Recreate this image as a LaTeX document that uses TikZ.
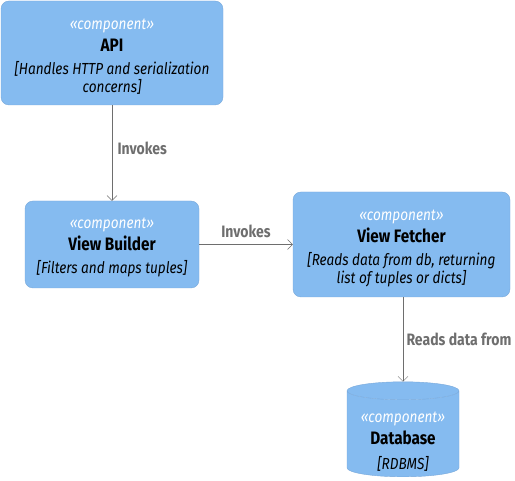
\documentclass[tikz,border=0pt]{standalone}
\usepackage{fontspec}
\setmainfont[FakeStretch=0.85]{Fira Sans}
\usetikzlibrary{shapes.geometric,arrows.meta}
\definecolor{boxfill}{HTML}{85BBF0}
\definecolor{boxline}{HTML}{78A8DA}
\definecolor{linkgray}{HTML}{6E6E6E}
\tikzset{
  comptext/.style={align=center, inner sep=0pt, font=\fontsize{16}{21}\selectfont},
  comp/.style={comptext, draw=boxline, fill=boxfill, rounded corners=8pt},
  dbcomp/.style={shape=cylinder, shape border rotate=90, aspect=0.18,
    draw=boxline, cylinder uses custom fill, cylinder body fill=boxfill,
    cylinder end fill=boxfill, inner sep=0pt},
  link/.style={draw=linkgray, -{Straight Barb[length=5pt,width=10pt]}},
  linklabel/.style={text=linkgray, font=\fontsize{16.5}{20}\selectfont\bfseries}
}
\newcommand{\stereo}[1]{\rule{0pt}{#1}{\color{white}\itshape «component»}}
\newcommand{\compname}[1]{{\fontsize{18}{21}\selectfont\bfseries #1}}
\begin{document}
\begin{tikzpicture}[x=1pt,y=-1pt]
    \useasboundingbox (0,0) rectangle (515,481);

    % Define components
    \node[comp, minimum width=222pt, minimum height=104pt] (api) at (112,53)
        {\stereo{18pt}\\[1pt]\compname{API}\\[2pt]{\itshape [Handles HTTP and serialization}\\[-3pt]{\itshape concerns]}};
    \node[comp, minimum width=174pt, minimum height=87pt] (builder) at (112,244.5)
        {\stereo{16pt}\\[1pt]\compname{View Builder}\\[2pt]{\itshape [Filters and maps tuples]}};
    \node[comp, minimum width=217pt, minimum height=105pt] (fetcher) at (401.5,244.5)
        {\stereo{18pt}\\[1pt]\compname{View Fetcher}\\[2pt]{\itshape [Reads data from db, returning}\\[-3pt]{\itshape list of tuples or dicts]}};
    \node[dbcomp, minimum width=112pt, minimum height=95pt, anchor=bottom] (db) at (403,477) {\hspace*{100pt}};
    \node[comptext] (dbtext) at (403,441)
        {\stereo{12pt}\\[1pt]\compname{Database}\\[4pt]{\itshape [RDBMS]}};

    % Draw relations
    \draw[link] (api) -- node[linklabel, right, xshift=2pt, yshift=5pt] {Invokes} (builder);
    \draw[link] (builder) -- node[linklabel, above, yshift=3pt] {Invokes} (fetcher);
    \draw[link] (fetcher.south -| db.top) -- node[linklabel, right] {Reads data from} (db.top);
\end{tikzpicture}
\end{document}
